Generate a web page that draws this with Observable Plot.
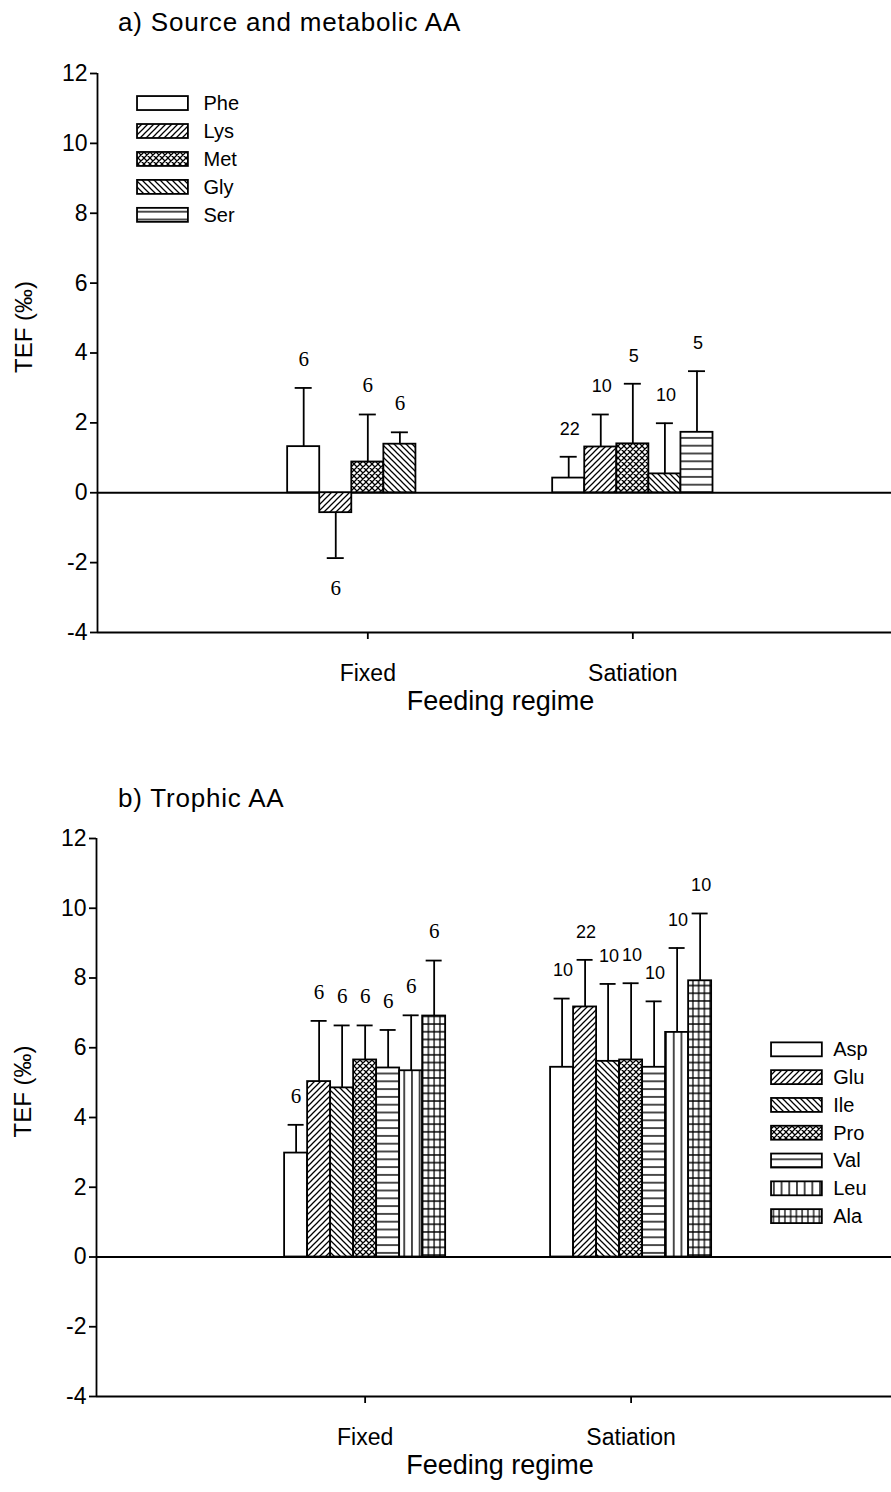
<!DOCTYPE html>
<html><head><meta charset="utf-8">
<script src="https://cdn.jsdelivr.net/npm/d3@7"></script>
<script src="https://cdn.jsdelivr.net/npm/@observablehq/plot@0.6"></script>
<style>
body{margin:0;background:#fff;width:891px;height:1492px;overflow:hidden;font-family:"Liberation Sans",Arial,sans-serif;}
.title{font-size:26px;letter-spacing:0.8px;padding-left:118px;height:44px;line-height:44px;color:#000;white-space:nowrap}
svg{display:block}
</style></head><body>
<svg width="0" height="0" style="position:absolute">
<defs>
<pattern id="pat-white" patternUnits="userSpaceOnUse" width="6" height="6"><rect width="6" height="6" fill="#fff"/></pattern>
<pattern id="pat-diagR" patternUnits="userSpaceOnUse" width="6" height="6"><rect width="6" height="6" fill="#fff"/><path d="M-1,1 L1,-1 M0,6 L6,0 M5,7 L7,5" stroke="#000" stroke-width="1.25"/></pattern>
<pattern id="pat-diagL" patternUnits="userSpaceOnUse" width="6" height="6"><rect width="6" height="6" fill="#fff"/><path d="M-1,5 L1,7 M0,0 L6,6 M5,-1 L7,1" stroke="#000" stroke-width="1.25"/></pattern>
<pattern id="pat-cross" patternUnits="userSpaceOnUse" width="6" height="6"><rect width="6" height="6" fill="#fff"/><path d="M-1,1 L1,-1 M0,6 L6,0 M5,7 L7,5 M-1,5 L1,7 M0,0 L6,6 M5,-1 L7,1" stroke="#000" stroke-width="1.25"/></pattern>
<pattern id="pat-horiz" patternUnits="userSpaceOnUse" width="8" height="7.8"><rect width="8" height="7.8" fill="#fff"/><path d="M0,3.9 L8,3.9" stroke="#000" stroke-width="1.4"/></pattern>
<pattern id="pat-vert" patternUnits="userSpaceOnUse" width="7.7" height="8"><rect width="7.7" height="8" fill="#fff"/><path d="M3.85,0 L3.85,8" stroke="#000" stroke-width="1.4"/></pattern>
<pattern id="pat-grid" patternUnits="userSpaceOnUse" width="5.75" height="7.7"><rect width="5.75" height="7.7" fill="#fff"/><path d="M2.9,0 L2.9,7.7 M0,3.85 L5.75,3.85" stroke="#000" stroke-width="1.25"/></pattern>
</defs>
</svg>
<div class="title">a) Source and metabolic AA</div>
<div id="a"></div>
<div class="title" style="margin-top:31px">b) Trophic AA</div>
<div id="b"></div>
<script>
// ---------- data ----------
const groups = ["Fixed", "Satiation"];
const yTicks = [-4, -2, 0, 2, 4, 6, 8, 10, 12];

// Panel a: source and metabolic AA
const seriesA = ["Phe", "Lys", "Met", "Gly", "Ser"];
const fixedMeanA = [1.32, -0.57, 0.88, 1.39, null];
const fixedErrA  = [1.68, 1.30, 1.36, 0.34, null];
const fixedNA    = [6, 6, 6, 6, null];
const satMeanA   = [0.42, 1.31, 1.40, 0.54, 1.73];
const satErrA    = [0.61, 0.93, 1.72, 1.45, 1.75];
const satNA      = [22, 10, 5, 10, 5];

// Panel b: trophic AA
const seriesB = ["Asp", "Glu", "Ile", "Pro", "Val", "Leu", "Ala"];
const fixedMeanB = [2.98, 5.03, 4.85, 5.65, 5.42, 5.34, 6.91];
const fixedErrB  = [0.81, 1.74, 1.79, 0.99, 1.09, 1.59, 1.59];
const fixedNB    = [6, 6, 6, 6, 6, 6, 6];
const satMeanB   = [5.44, 7.17, 5.61, 5.65, 5.44, 6.44, 7.92];
const satErrB    = [1.97, 1.35, 2.22, 2.20, 1.89, 2.42, 1.93];
const satNB      = [10, 22, 10, 10, 10, 10, 10];

// ---------- styles ----------
const patA = ["white", "diagR", "cross", "diagL", "horiz"];
const patB = ["white", "diagR", "diagL", "cross", "horiz", "vert", "grid"];
const SW = 1.8;

function buildRows(series, means, errs, ns, pats, bw) {
  const rows = [];
  means.forEach((m, gi) => {
    m.forEach((v, si) => {
      if (v == null) return;
      const x1 = (gi + 1) + (si - series.length / 2) * bw;
      const e = errs[gi][si];
      const end = v >= 0 ? v + e : v - e;
      rows.push({group: groups[gi], series: series[si], mean: v, end, n: ns[gi][si],
        x1, x2: x1 + bw, xc: x1 + bw / 2, fill: `url(#pat-${pats[si]})`});
    });
  });
  return rows;
}

function panel(el, cfg) {
  const rows = buildRows(cfg.series, cfg.means, cfg.errs, cfg.ns, cfg.pats, cfg.bw);
  const cw = cfg.capPx / cfg.k;
  const legend = cfg.series.map((s, i) => ({s, y: cfg.legTop - i * cfg.legStep, fill: `url(#pat-${cfg.pats[i]})`}));
  const fixedRows = rows.filter(d => d.group === "Fixed");
  const satRows = rows.filter(d => d.group === "Satiation");
  const plot = Plot.plot({
    width: 891,
    height: cfg.height,
    marginLeft: cfg.marginLeft,
    marginRight: 0,
    marginTop: cfg.marginTop,
    marginBottom: cfg.marginBottom,
    x: {domain: cfg.xDomain},
    y: {domain: [-4, 12]},
    color: {type: "identity"},
    style: {fontFamily: "'Liberation Sans', Arial, sans-serif", fontSize: "23px", background: "white", color: "black", overflow: "visible"},
    marks: [
      Plot.ruleY([0], {strokeWidth: SW}),
      Plot.rectY(rows, {x1: "x1", x2: "x2", y1: 0, y2: "mean", fill: "fill", stroke: "black", strokeWidth: SW}),
      Plot.ruleX(rows, {x: "xc", y1: "mean", y2: "end", strokeWidth: SW}),
      Plot.ruleY(rows, {y: "end", x1: d => d.xc - cw, x2: d => d.xc + cw, strokeWidth: SW}),
      Plot.text(fixedRows.filter(d => d.mean >= 0), {x: "xc", y: "end", text: "n", dy: -29, fontFamily: "'Liberation Serif', serif", fontSize: 21}),
      Plot.text(fixedRows.filter(d => d.mean < 0), {x: "xc", y: "end", text: "n", dy: 30, fontFamily: "'Liberation Serif', serif", fontSize: 21}),
      Plot.text(satRows, {x: "xc", y: "end", text: "n", dy: -28, dx: 1, fontFamily: "'Liberation Sans Narrow', 'Liberation Sans', sans-serif", fontSize: 18}),
      Plot.rect(legend, {x1: cfg.legX1, x2: cfg.legX2, y1: d => d.y - 0.2, y2: d => d.y + 0.2, fill: "fill", stroke: "black", strokeWidth: SW}),
      Plot.text(legend, {x: cfg.legTx, y: "y", text: "s", textAnchor: "start", fontSize: 20}),
      Plot.ruleX([cfg.xDomain[0]], {y1: -4, y2: 12, strokeWidth: SW}),
      Plot.ruleY([-4], {strokeWidth: SW}),
      Plot.axisY({ticks: yTicks, tickFormat: d => String(d), tickSize: 7, tickPadding: 3, fontSize: 23, strokeWidth: SW, label: null}),
      Plot.axisX({ticks: [1, 2], tickFormat: d => groups[d - 1], tickSize: 7, tickPadding: 25, fontSize: 23, strokeWidth: SW, label: null}),
      Plot.text(["Feeding regime"], {text: d => d, frameAnchor: "bottom", dy: 77, dx: 6, fontSize: 27}),
      Plot.text(["TEF (‰)"], {text: d => d, frameAnchor: "left", rotate: -90, dx: -73, dy: 20, fontSize: 24})
    ]
  });
  document.getElementById(el).appendChild(plot);
}

panel("a", {
  series: seriesA, means: [fixedMeanA, satMeanA], errs: [fixedErrA, satErrA], ns: [fixedNA, satNA], pats: patA,
  bw: 0.121, k: 265, capPx: 8.5,
  height: 701, marginTop: 29, marginBottom: 113, marginLeft: 97, xDomain: [-0.02, 2.976],
  legTop: 11.14, legStep: 0.8, legX1: 0.131, legX2: 0.323, legTx: 0.38
});
panel("b", {
  series: seriesB, means: [fixedMeanB, satMeanB], errs: [fixedErrB, satErrB], ns: [fixedNB, satNB], pats: patB,
  bw: 0.0865, k: 266, capPx: 8,
  height: 672, marginTop: 18, marginBottom: 96, marginLeft: 96, xDomain: [-0.01, 2.979],
  legTop: 5.94, legStep: 0.797, legX1: 2.528, legX2: 2.719, legTx: 2.76
});
</script>
</body></html>
